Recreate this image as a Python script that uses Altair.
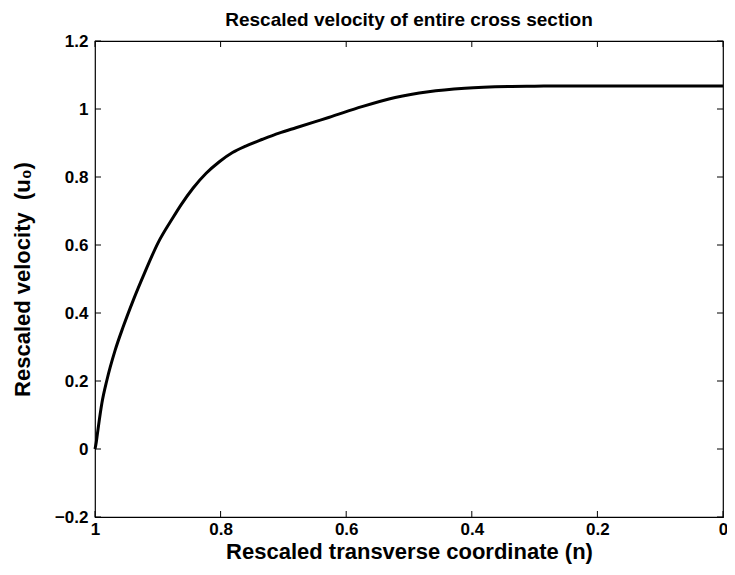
import altair as alt
import pandas as pd

# Curve
n_vals = [1.0, 0.998, 0.996, 0.989, 0.981, 0.968, 0.955, 0.939, 0.921, 0.900,
          0.876, 0.863, 0.844, 0.823, 0.802, 0.781, 0.760, 0.733, 0.707, 0.680,
          0.649, 0.628, 0.575, 0.522, 0.469, 0.411, 0.342, 0.300, 0.252, 0.200,
          0.100, 0.0]
u_vals = [0.0, 0.02, 0.047, 0.135, 0.203, 0.29, 0.36, 0.438, 0.518, 0.605,
          0.680, 0.718, 0.767, 0.811, 0.845, 0.872, 0.891, 0.911, 0.929, 0.945,
          0.963, 0.975, 1.007, 1.034, 1.051, 1.061, 1.066, 1.067, 1.068, 1.068,
          1.068, 1.068]

x_ticks = [0, 0.2, 0.4, 0.6, 0.8, 1]
y_ticks = [-0.2, 0, 0.2, 0.4, 0.6, 0.8, 1, 1.2]

W, H = 628, 476
FONT = "Liberation Sans"

df = pd.DataFrame({"n": n_vals, "u": u_vals})
xt = pd.DataFrame({"t": x_ticks})
yt = pd.DataFrame({"t": y_ticks})

xscale = alt.Scale(domain=[0, 1], reverse=True, nice=False)
yscale = alt.Scale(domain=[-0.2, 1.2], nice=False)

line = alt.Chart(df).mark_line(color="black", strokeWidth=3, interpolate="monotone").encode(
    x=alt.X("n:Q", scale=xscale,
            axis=alt.Axis(values=x_ticks, title="Rescaled transverse coordinate (n)",
                          tickSize=0, labelPadding=4, titlePadding=4, grid=False,
                          domain=False, labelFlush=False, format="~g")),
    y=alt.Y("u:Q", scale=yscale,
            axis=alt.Axis(values=y_ticks,
                          title="Rescaled velocity\u00a0\u00a0(u\u2080)",
                          tickSize=0, labelPadding=7, titlePadding=20, grid=False,
                          domain=False, labelFlush=False, format="~g")),
)

tick_len = 6
xb = alt.Chart(xt).mark_rule(color="black").encode(
    x=alt.X("t:Q", scale=xscale), y=alt.value(H), y2=alt.value(H - tick_len))
xtp = alt.Chart(xt).mark_rule(color="black").encode(
    x=alt.X("t:Q", scale=xscale), y=alt.value(0), y2=alt.value(tick_len))
yl = alt.Chart(yt).mark_rule(color="black").encode(
    y=alt.Y("t:Q", scale=yscale), x=alt.value(0), x2=alt.value(tick_len))
yr = alt.Chart(yt).mark_rule(color="black").encode(
    y=alt.Y("t:Q", scale=yscale), x=alt.value(W), x2=alt.value(W - tick_len))

chart = alt.layer(xb, xtp, yl, yr, line).properties(
    width=W, height=H,
    title=alt.Title("Rescaled velocity of entire cross section", fontSize=19,
                    font=FONT, fontWeight="bold", offset=2, anchor="middle"),
    autosize=alt.AutoSizeParams(type="none"),
    padding={"left": 87, "top": 33, "right": 4, "bottom": 50},
).configure_view(stroke="black", strokeWidth=1.2).configure_axis(
    labelFont=FONT, titleFont=FONT, labelFontSize=17, titleFontSize=22,
    labelFontWeight="bold", titleFontWeight="bold", labelColor="black",
    titleColor="black",
)

chart.save("out.html", embed_options={"renderer": "svg", "actions": False})
